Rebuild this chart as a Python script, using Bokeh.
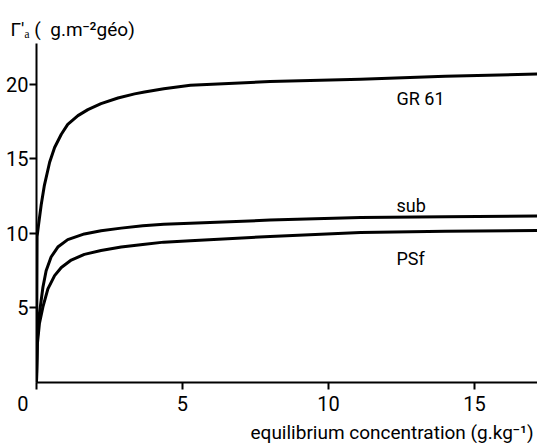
from bokeh.plotting import figure
from bokeh.models import Range1d, FixedTicker, Label, Title
from bokeh.embed import file_html
from bokeh.resources import INLINE

# ---- data ----
gr61_x = [0, 0.02, 0.07, 0.16, 0.27, 0.45, 0.62, 0.85, 1.07, 1.42, 1.76, 2.21, 2.79, 3.36, 3.70,
          4.36, 5.27, 8.0, 11.1, 14.0, 17.16]
gr61_y = [0, 9.8, 10.58, 11.91, 13.23, 14.78, 15.77, 16.66, 17.32, 17.91, 18.31, 18.71, 19.09, 19.37, 19.5,
          19.72, 19.95, 20.2, 20.35, 20.55, 20.7]

sub_x = [0, 0.03, 0.10, 0.22, 0.33, 0.50, 0.73, 1.07, 1.64, 2.21, 2.9, 3.64,
         4.36, 5.27, 8.0, 11.1, 14.0, 17.16]
sub_y = [0, 3.0, 4.62, 6.39, 7.5, 8.42, 9.09, 9.59, 9.97, 10.19, 10.36, 10.52,
         10.62, 10.69, 10.9, 11.07, 11.13, 11.18]

psf_x = [0, 0.03, 0.10, 0.22, 0.39, 0.62, 0.85, 1.19, 1.64, 2.21, 2.9, 3.64,
         4.36, 5.27, 8.0, 11.1, 14.0, 17.16]
psf_y = [0, 2.6, 3.96, 5.07, 6.28, 7.17, 7.72, 8.22, 8.6, 8.86, 9.09, 9.26,
         9.42, 9.51, 9.8, 10.07, 10.15, 10.2]

x_ticks = [0, 5, 10, 15]
y_ticks = [5, 10, 15, 20]
series_names = ["GR 61", "sub", "PSf"]
y_title = "Γ′ₐ (\u00a0 g.m⁻²géo)"
x_title = "equilibrium concentration (g.kg⁻¹)"

FONT = "Roboto"

p = figure(width=537, height=443, output_backend="svg", toolbar_location=None,
           x_range=Range1d(0, 17.16), y_range=Range1d(0, 22.75),
           min_border_left=36, min_border_right=0, min_border_top=43, min_border_bottom=57)
p.outline_line_color = None
p.grid.visible = False
p.background_fill_color = "white"
p.border_fill_color = "white"

for xs, ys in [(gr61_x, gr61_y), (sub_x, sub_y), (psf_x, psf_y)]:
    p.line(xs, ys, line_color="black", line_width=3, line_join="round", line_cap="round")

for ax in (p.xaxis[0], p.yaxis[0]):
    ax.axis_line_width = 2
    ax.axis_line_color = "black"
    ax.major_tick_line_width = 2
    ax.major_tick_line_color = "black"
    ax.major_tick_in = 0
    ax.major_tick_out = 7
    ax.minor_tick_line_color = None
    ax.major_label_text_font = FONT
    ax.major_label_text_font_size = "20px"
    ax.major_label_text_color = "black"

p.xaxis.ticker = FixedTicker(ticks=x_ticks)
p.xaxis.major_label_overrides = {0: "0\u2007\u2007\u00a0"}
p.xaxis.major_label_standoff = 2
p.yaxis.ticker = FixedTicker(ticks=y_ticks)
p.yaxis.major_label_standoff = 1

# series labels
label_pos = {"GR 61": (12.33, 19.04), "sub": (12.33, 11.87), "PSf": (12.33, 8.3)}
for name in series_names:
    lx, ly = label_pos[name]
    p.add_layout(Label(x=lx, y=ly, text=name, text_font=FONT, text_font_size="18px",
                       text_color="black", text_baseline="alphabetic", text_align="left"))

# axis titles
p.title.text = y_title
p.title.align = "left"
p.title.offset = -26
p.title.standoff = 5
p.title.text_font = FONT
p.title.text_font_size = "19px"
p.title.text_font_style = "normal"
p.title.text_color = "black"

xt = Title(text=x_title, align="right", offset=4, standoff=0, text_font=FONT,
           text_font_size="19px", text_font_style="normal", text_color="black")
p.add_layout(xt, "below")

open("out.html", "w").write(file_html(p, INLINE))
